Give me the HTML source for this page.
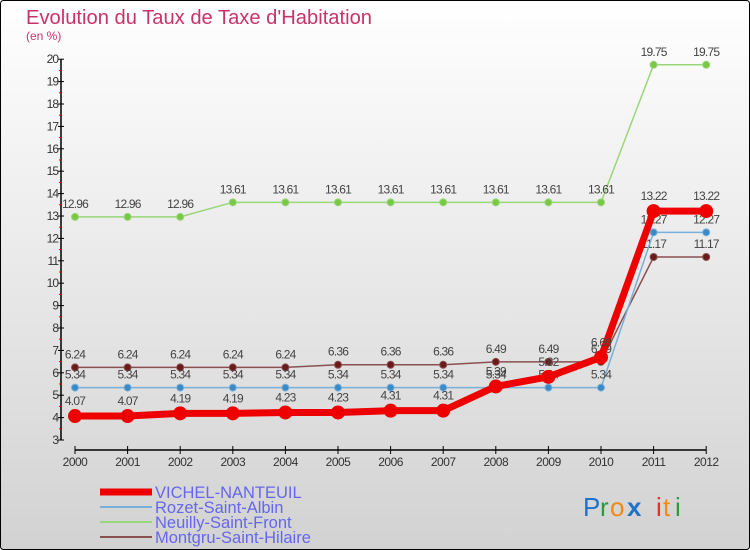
<!DOCTYPE html>
<html><head><meta charset="utf-8"><style>
body{margin:0;}
#wrap{width:750px;height:550px;position:relative;overflow:hidden;}
svg text{font-family:"Liberation Sans",sans-serif;}
</style></head><body>
<div id="wrap">
<svg id="chart" width="750" height="550" xmlns="http://www.w3.org/2000/svg">
<defs><linearGradient id="bg" x1="0" y1="0" x2="0" y2="1"><stop offset="0" stop-color="#ffffff"/><stop offset="1" stop-color="#d2d2d2"/></linearGradient></defs>
<rect x="0.5" y="0.5" width="749" height="549" rx="3" fill="url(#bg)" stroke="#000"/>
<text x="26" y="24" font-size="20.5" fill="#c8336a" textLength="346" lengthAdjust="spacingAndGlyphs">Evolution du Taux de Taxe d'Habitation</text>
<text x="26" y="40" font-size="12" fill="#c8336a">(en %)</text>
<g id="axes"></g>
<g id="series"></g>
<g id="legend"></g>
<g font-size="26" font-family="Liberation Sans, sans-serif">
<text x="583" y="516" fill="#1e73c8">P</text><text x="600" y="516" fill="#2a9a3a">r</text><text x="610" y="516" fill="#f08a10">o</text><text x="627" y="516" fill="#1e73c8" font-weight="bold">x</text><text x="656" y="516" fill="#e83020">i</text><text x="663" y="516" fill="#f08a10">t</text><text x="675" y="516" fill="#2a9a3a">i</text>
</g>
</svg>
</div>
<script>
const years=[2000,2001,2002,2003,2004,2005,2006,2007,2008,2009,2010,2011,2012];
const vichel=[4.07,4.07,4.19,4.19,4.23,4.23,4.31,4.31,5.39,5.82,6.69,13.22,13.22];
const rozet=[5.34,5.34,5.34,5.34,5.34,5.34,5.34,5.34,5.34,5.34,5.34,12.27,12.27];
const neuilly=[12.96,12.96,12.96,13.61,13.61,13.61,13.61,13.61,13.61,13.61,13.61,19.75,19.75];
const montgru=[6.24,6.24,6.24,6.24,6.24,6.36,6.36,6.36,6.49,6.49,6.49,11.17,11.17];
const yTicks=[3,4,5,6,7,8,9,10,11,12,13,14,15,16,17,18,19,20];
const names=["VICHEL-NANTEUIL","Rozet-Saint-Albin","Neuilly-Saint-Front","Montgru-Saint-Hilaire"];

const NS="http://www.w3.org/2000/svg";
const xS=i=>75+i*52.6;
const yS=v=>440-(v-3)*22.4;
function mk(tag,attrs,parent){const e=document.createElementNS(NS,tag);for(const k in attrs)e.setAttribute(k,attrs[k]);parent.appendChild(e);return e;}
const axes=document.getElementById('axes');
let yl=mk('line',{x1:61,y1:yS(20),x2:61,y2:yS(3),stroke:'#000','stroke-width':1.5},axes);


yTicks.forEach(t=>{
  mk('line',{x1:58,y1:yS(t),x2:64,y2:yS(t),stroke:'#000'},axes);
  if(t<20) mk('line',{x1:59,y1:yS(t+0.5),x2:62,y2:yS(t+0.5),stroke:'#e00'},axes);
  const tx=mk('text',{x:58,y:yS(t)+4,'font-size':12,'text-anchor':'end',fill:'#333','letter-spacing':-1},axes);
  tx.textContent=t;
  
  
});
let xl=mk('line',{x1:75,y1:450,x2:706,y2:450,stroke:'#000','stroke-width':1.5},axes);


years.forEach((y,i)=>{
  mk('line',{x1:xS(i),y1:446,x2:xS(i),y2:454,stroke:'#000'},axes);
  const tx=mk('text',{x:xS(i),y:466,'font-size':12,'text-anchor':'middle',fill:'#333','letter-spacing':-0.5},axes);
  tx.textContent=y;
  
  
});
const ser=document.getElementById('series');
function draw(data,color,w,r,name,dark,labelDy){
  const g=mk('g',{},ser);
  
  
  mk('polyline',{points:data.map((v,i)=>xS(i)+','+yS(v)).join(' '),fill:'none',stroke:color,'stroke-width':w,'stroke-linejoin':'round'},g);
  data.forEach((v,i)=>{
    const c=mk('circle',{cx:xS(i),cy:yS(v),r:r,fill:dark,stroke:color,'stroke-width':1},g);
    
    
    const t=mk('text',{x:xS(i),y:yS(v)+labelDy,'font-size':12,'text-anchor':'middle',fill:'#444','letter-spacing':-0.8},g);
    t.textContent=v.toFixed(2);
    
    
  });
}
draw(neuilly,'#9ad67a',1.5,3.5,'series-neuilly','#77c944',-9);
draw(montgru,'#8a5050',1.5,3.5,'series-montgru','#6a1a1a',-9);
draw(rozet,'#7ab0d8',1.5,3.5,'series-rozet','#3a8ac8',-9);
draw(vichel,'#ee0000',7,6.5,'series-vichel','#ee0000',-11);
const lg=document.getElementById('legend');
const lc=['#ee0000','#7ab0d8','#9ad67a','#8a5050'];const lw=[7,2,2,2];
names.forEach((n,i)=>{
  const y=492+i*15;
  const g=mk('g',{},lg);
  
  
  mk('line',{x1:100,y1:y,x2:152,y2:y,stroke:lc[i],'stroke-width':lw[i]},g);
  const t=mk('text',{x:155,y:y+6,'font-size':16.5,fill:'#6666ee'},g);
  t.textContent=n;
});
</script>
</body></html>
